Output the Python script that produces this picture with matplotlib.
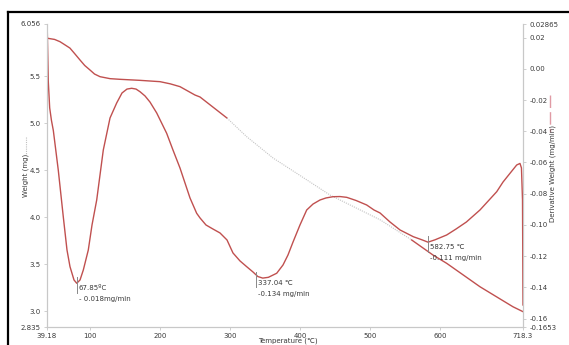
import matplotlib
matplotlib.use("Agg")
import matplotlib.pyplot as plt
from matplotlib.lines import Line2D
import numpy as np

# Thermogravimetric curve: temperature (°C) and sample weight (mg)
weight_temp = [39.5, 40.2, 50.0, 57.7, 64.0, 71.9, 79.0, 86.3, 93.0, 100.5, 107.0, 114.8,
               129.1, 143.3, 171.9, 200.4, 215.0, 228.9, 250.3, 257.5, 296.0, 324.1,
               361.6, 395.4, 442.9, 514.3, 559.5, 589.9, 609.4, 656.9, 704.0, 718.3]
weight_mg = [5.905, 5.904, 5.892, 5.868, 5.838, 5.800, 5.738, 5.673, 5.615, 5.567, 5.524,
             5.496, 5.475, 5.468, 5.457, 5.443, 5.420, 5.390, 5.301, 5.280, 5.056, 4.858,
             4.632, 4.469, 4.238, 3.975, 3.760, 3.600, 3.512, 3.263, 3.050, 2.998]
# portion of the weight trace drawn as a faint dotted line
dotted_from, dotted_to = 296.0, 561.0

# Derivative weight curve (mg/min)
deriv_temp = [39.5, 41.0, 43.0, 45.5, 48.2, 55.3, 62.4, 67.7, 72.0, 77.7, 81.6, 86.3,
              91.0, 98.1, 103.4, 110.1, 119.5, 129.1, 138.6, 146.2, 153.3, 160.0, 166.2,
              171.9, 179.0, 186.1, 195.7, 209.9, 218.9, 228.9, 243.2, 252.7, 257.5,
              266.0, 276.0, 286.0, 296.0, 304.5, 314.5, 324.1, 333.1, 340.0, 347.0,
              355.0, 366.9, 375.9, 383.0, 390.2, 400.1, 409.7, 418.7, 428.7, 437.2,
              447.2, 457.2, 466.8, 480.0, 495.3, 505.7, 514.3, 528.6, 542.9, 561.8,
              574.2, 582.75, 592.7, 609.4, 622.7, 637.5, 656.9, 671.2, 680.8, 689.8,
              699.8, 709.3, 714.0, 716.1, 717.6, 718.3]
deriv_val = [0.0261, -0.0080, -0.0250, -0.0330, -0.0395, -0.0650, -0.0947, -0.1160,
             -0.1267, -0.1352, -0.1373, -0.1352, -0.1288, -0.1160, -0.1000, -0.0840,
             -0.0520, -0.0315, -0.0219, -0.0155, -0.0130, -0.0125, -0.0130, -0.0147,
             -0.0174, -0.0213, -0.0283, -0.0413, -0.0520, -0.0635, -0.0827, -0.0925,
             -0.0955, -0.1000, -0.1026, -0.1051, -0.1096, -0.1179, -0.1230, -0.1267,
             -0.1301, -0.1330, -0.1340, -0.1335, -0.1309, -0.1256, -0.1192, -0.1109,
             -0.1000, -0.0904, -0.0866, -0.0840, -0.0827, -0.0819, -0.0818, -0.0823,
             -0.0843, -0.0872, -0.0904, -0.0923, -0.0981, -0.1032, -0.1075, -0.1095,
             -0.1110, -0.1095, -0.1064, -0.1026, -0.0981, -0.0904, -0.0834, -0.0787,
             -0.0725, -0.0669, -0.0616, -0.0606, -0.0635, -0.0840, -0.1512]

x_ticks = [39.18, 100, 200, 300, 400, 500, 600, 718.3]
x_tick_labels = ["39.18", "100", "200", "300", "400", "500", "600", "718.3"]
w_ticks = [2.835, 3.0, 3.5, 4.0, 4.5, 5.0, 5.5, 6.056]
w_tick_labels = ["2.835", "3.0", "3.5", "4.0", "4.5", "5.0", "5.5", "6.056"]
d_ticks = [-0.1653, -0.16, -0.14, -0.12, -0.10, -0.08, -0.06, -0.04, -0.02, 0.00, 0.02, 0.02865]
d_tick_labels = ["-0.1653", "-0.16", "-0.14", "-0.12", "-0.10", "-0.08", "-0.06", "-0.04",
                 "-0.02", "0.00", "0.02", "0.02865"]

# peak annotations: temperature, rate, text lines
peaks = [
    (81.6, -0.1373, "67.85ºC", "- 0.018mg/min"),
    (337.04, -0.134, "337.04 ℃", "-0.134 mg/min"),
    (582.75, -0.111, "582.75 ℃", "-0.111 mg/min"),
]

RED = "#c0504f"
GRID = "#c8c8c8"
TXT = "#3a3a3a"
plt.rcParams["font.family"] = ["DejaVu Sans", "Noto Sans CJK SC"]

fig = plt.figure(figsize=(5.69, 3.45), dpi=100)
ax = fig.add_axes([47 / 569, 1 - 327 / 345, 476 / 569, 303 / 345])
ax2 = ax.twinx()

ax.set_xlim(39.18, 718.3)
ax.set_ylim(2.835, 6.056)
ax2.set_ylim(-0.1653, 0.02865)

# weight trace: solid, dotted middle, solid
wt = np.array(weight_temp)
wm = np.array(weight_mg)
m1 = wt <= dotted_from
m2 = (wt >= dotted_from) & (wt <= dotted_to + 1)
m3 = wt >= dotted_to - 2
ax.plot(wt[m1], wm[m1], color=RED, lw=1.0)
ax.plot(wt[m2], wm[m2], color="#c4c4c4", lw=0.8, ls=(0, (1, 1)))
ax.plot(wt[m3], wm[m3], color=RED, lw=1.0)

# derivative trace
ax2.plot(deriv_temp, deriv_val, color=RED, lw=1.0)

for ax_ in (ax, ax2):
    for s in ax_.spines.values():
        s.set_color(GRID)
        s.set_linewidth(0.8)
    ax_.spines["top"].set_visible(False)

ax.set_xticks(x_ticks)
ax.set_xticklabels(x_tick_labels)
ax.set_yticks(w_ticks)
ax.set_yticklabels(w_tick_labels)
ax2.set_yticks(d_ticks)
ax2.set_yticklabels(d_tick_labels)
ax.tick_params(axis="both", labelsize=5, colors=GRID, labelcolor=TXT, length=2.5, width=0.6, pad=2)
ax2.tick_params(axis="y", labelsize=5, colors=GRID, labelcolor=TXT, length=2.5, width=0.6, pad=2)

fig.text(288 / 569, 1 - 341 / 345, "Temperature (℃)", fontsize=5, color=TXT,
         ha="center", va="center")

# axis titles with line samples
fig.text(26 / 569, 1 - 175 / 345, "Weight (mg)", rotation=90, fontsize=5,
         color=TXT, ha="center", va="center")
fig.add_artist(Line2D([26 / 569, 26 / 569], [1 - 137 / 345, 1 - 155 / 345],
                      color="#c0c0c0", lw=0.8, ls=(0, (1, 1))))
fig.text(553 / 569, 1 - 174 / 345, "Derivative Weight (mg/min)", rotation=90,
         fontsize=5, color=TXT, ha="center", va="center")
fig.add_artist(Line2D([550 / 569, 550 / 569], [1 - 95 / 345, 1 - 132 / 345],
                      color="#e09aa4", lw=1.0, ls=(0, (9, 3))))

# peak markers and labels
for t, d, l1, l2 in peaks:
    ax2.plot([t, t], [d - 0.006, d + 0.004], color="#888888", lw=0.7)
    ax2.annotate(l1, (t, d), xytext=(1.5, -1.5), textcoords="offset points",
                 fontsize=5, color=TXT, ha="left", va="top")
    ax2.annotate(l2, (t, d), xytext=(1.5, -9.5), textcoords="offset points",
                 fontsize=5, color=TXT, ha="left", va="top")

# outer frame edges
fig.add_artist(Line2D([8 / 569, 1], [1 - 12 / 345, 1 - 12 / 345], color="black", lw=1.6))
fig.add_artist(Line2D([8 / 569, 8 / 569], [0, 1 - 12 / 345], color="black", lw=1.6))

fig.savefig("out.png", dpi=100)
